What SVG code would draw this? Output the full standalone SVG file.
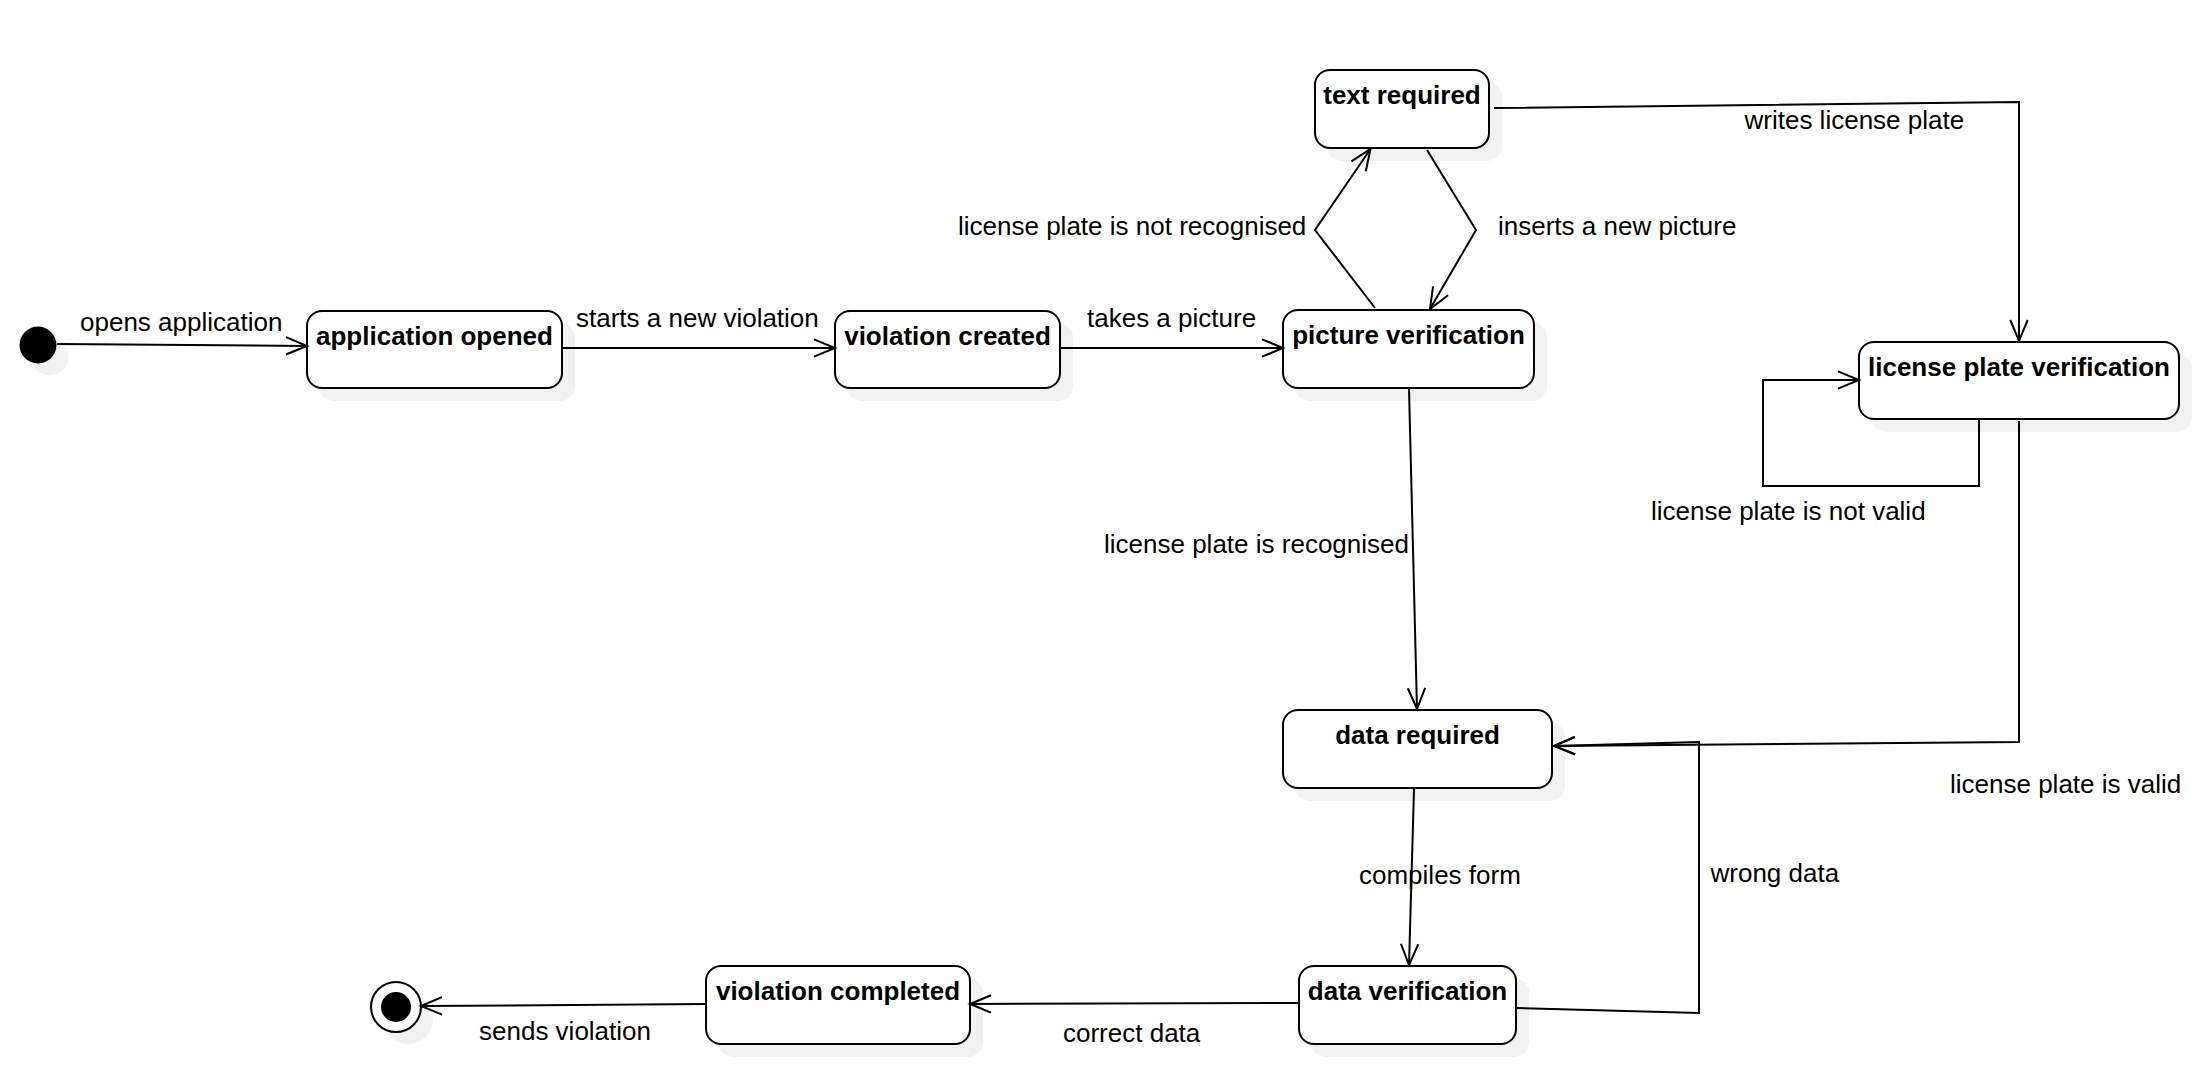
<svg xmlns="http://www.w3.org/2000/svg" width="2210" height="1076" viewBox="0 0 2210 1076">
<style>
.shadow{fill:#f1f1f1;stroke:none}
.node{fill:#ffffff;stroke:#000000;stroke-width:2}
.title{font-family:"Liberation Sans",Arial,sans-serif;font-size:26px;font-weight:bold;fill:#000000;text-anchor:middle}
.lbl{font-family:"Liberation Sans",Arial,sans-serif;font-size:26px;fill:#000000}
.edge{fill:none;stroke:#000000;stroke-width:2;marker-end:url(#arr)}
</style>
<defs>
<marker id="arr" markerUnits="userSpaceOnUse" markerWidth="30" markerHeight="24" viewBox="-24 -12 30 24" refX="0" refY="0" orient="auto" overflow="visible">
<path d="M-21,-8.7 L0,0 L-21,8.7" fill="none" stroke="#000000" stroke-width="2"/>
</marker>
</defs>
<rect width="2210" height="1076" fill="#ffffff"/>

<g id="initial">
<circle class="shadow" cx="50" cy="357" r="18.5"/>
<circle cx="38" cy="345" r="18.5" fill="#000000"/>
</g>

<g id="final">
<circle class="shadow" cx="408" cy="1019" r="25"/>
<circle cx="396" cy="1007" r="25" fill="#ffffff" stroke="#000000" stroke-width="2"/>
<circle cx="396" cy="1007" r="15" fill="#000000"/>
</g>

<g id="application-opened">
<rect class="shadow" x="319" y="323" width="256" height="78" rx="15"/>
<rect class="node" x="307" y="311" width="255" height="77" rx="15"/>
<text class="title" x="434.5" y="344.5">application opened</text>
</g>

<g id="violation-created">
<rect class="shadow" x="847" y="323" width="226" height="78" rx="15"/>
<rect class="node" x="835" y="311" width="225" height="77" rx="15"/>
<text class="title" x="947.5" y="344.5">violation created</text>
</g>

<g id="picture-verification">
<rect class="shadow" x="1295" y="322" width="252" height="79" rx="15"/>
<rect class="node" x="1283" y="310" width="251" height="78" rx="15"/>
<text class="title" x="1408.5" y="343.5">picture verification</text>
</g>

<g id="text-required">
<rect class="shadow" x="1327" y="82" width="175" height="79" rx="15"/>
<rect class="node" x="1315" y="70" width="174" height="78" rx="15"/>
<text class="title" x="1402" y="103.5">text required</text>
</g>

<g id="license-plate-verification">
<rect class="shadow" x="1871" y="354" width="321" height="78" rx="15"/>
<rect class="node" x="1859" y="342" width="320" height="77" rx="15"/>
<text class="title" x="2019" y="376">license plate verification</text>
</g>

<g id="data-required">
<rect class="shadow" x="1295" y="722" width="270" height="79" rx="15"/>
<rect class="node" x="1283" y="710" width="269" height="78" rx="15"/>
<text class="title" x="1417.5" y="743.5">data required</text>
</g>

<g id="data-verification">
<rect class="shadow" x="1311" y="978" width="218" height="79" rx="15"/>
<rect class="node" x="1299" y="966" width="217" height="78" rx="15"/>
<text class="title" x="1407.5" y="999.5">data verification</text>
</g>

<g id="violation-completed">
<rect class="shadow" x="718" y="978" width="265" height="79" rx="15"/>
<rect class="node" x="706" y="966" width="264" height="78" rx="15"/>
<text class="title" x="838" y="1000">violation completed</text>
</g>

<g id="connectors">
<path class="edge" d="M57,344 L307,346"/>
<path class="edge" d="M562,348 L835,348"/>
<path class="edge" d="M1060,348 L1283,348"/>
<path class="edge" d="M1375,308 L1315,230 L1370.5,149"/>
<path class="edge" d="M1427,150 L1476,230 L1430,309"/>
<path class="edge" d="M1494,108 L2019,102 L2019,341"/>
<path class="edge" d="M1979,420 V486 H1763 V380 H1859"/>
<path class="edge" d="M2019,421 V742 L1554,746"/>
<path class="edge" d="M1409,389 L1417,709"/>
<path class="edge" d="M1414,789 L1409,965"/>
<path class="edge" d="M1516,1008 L1699,1013 V742 L1554,746"/>
<path class="edge" d="M1299,1003 L970,1004"/>
<path class="edge" d="M706,1004 L421,1006"/>
</g>

<g id="labels">
<text class="lbl" x="80" y="331">opens application</text>
<text class="lbl" x="576" y="326.5">starts a new violation</text>
<text class="lbl" x="1087" y="326.5">takes a picture</text>
<text class="lbl" x="958" y="234.5">license plate is not recognised</text>
<text class="lbl" x="1498" y="234.5">inserts a new picture</text>
<text class="lbl" x="1744.5" y="128.5">writes license plate</text>
<text class="lbl" x="1651" y="520">license plate is not valid</text>
<text class="lbl" x="1104" y="552.5">license plate is recognised</text>
<text class="lbl" x="1950" y="792.5">license plate is valid</text>
<text class="lbl" x="1359" y="883.5">compiles form</text>
<text class="lbl" x="1710.5" y="881.5">wrong data</text>
<text class="lbl" x="1063" y="1042">correct data</text>
<text class="lbl" x="479" y="1039.5">sends violation</text>
</g>
</svg>
